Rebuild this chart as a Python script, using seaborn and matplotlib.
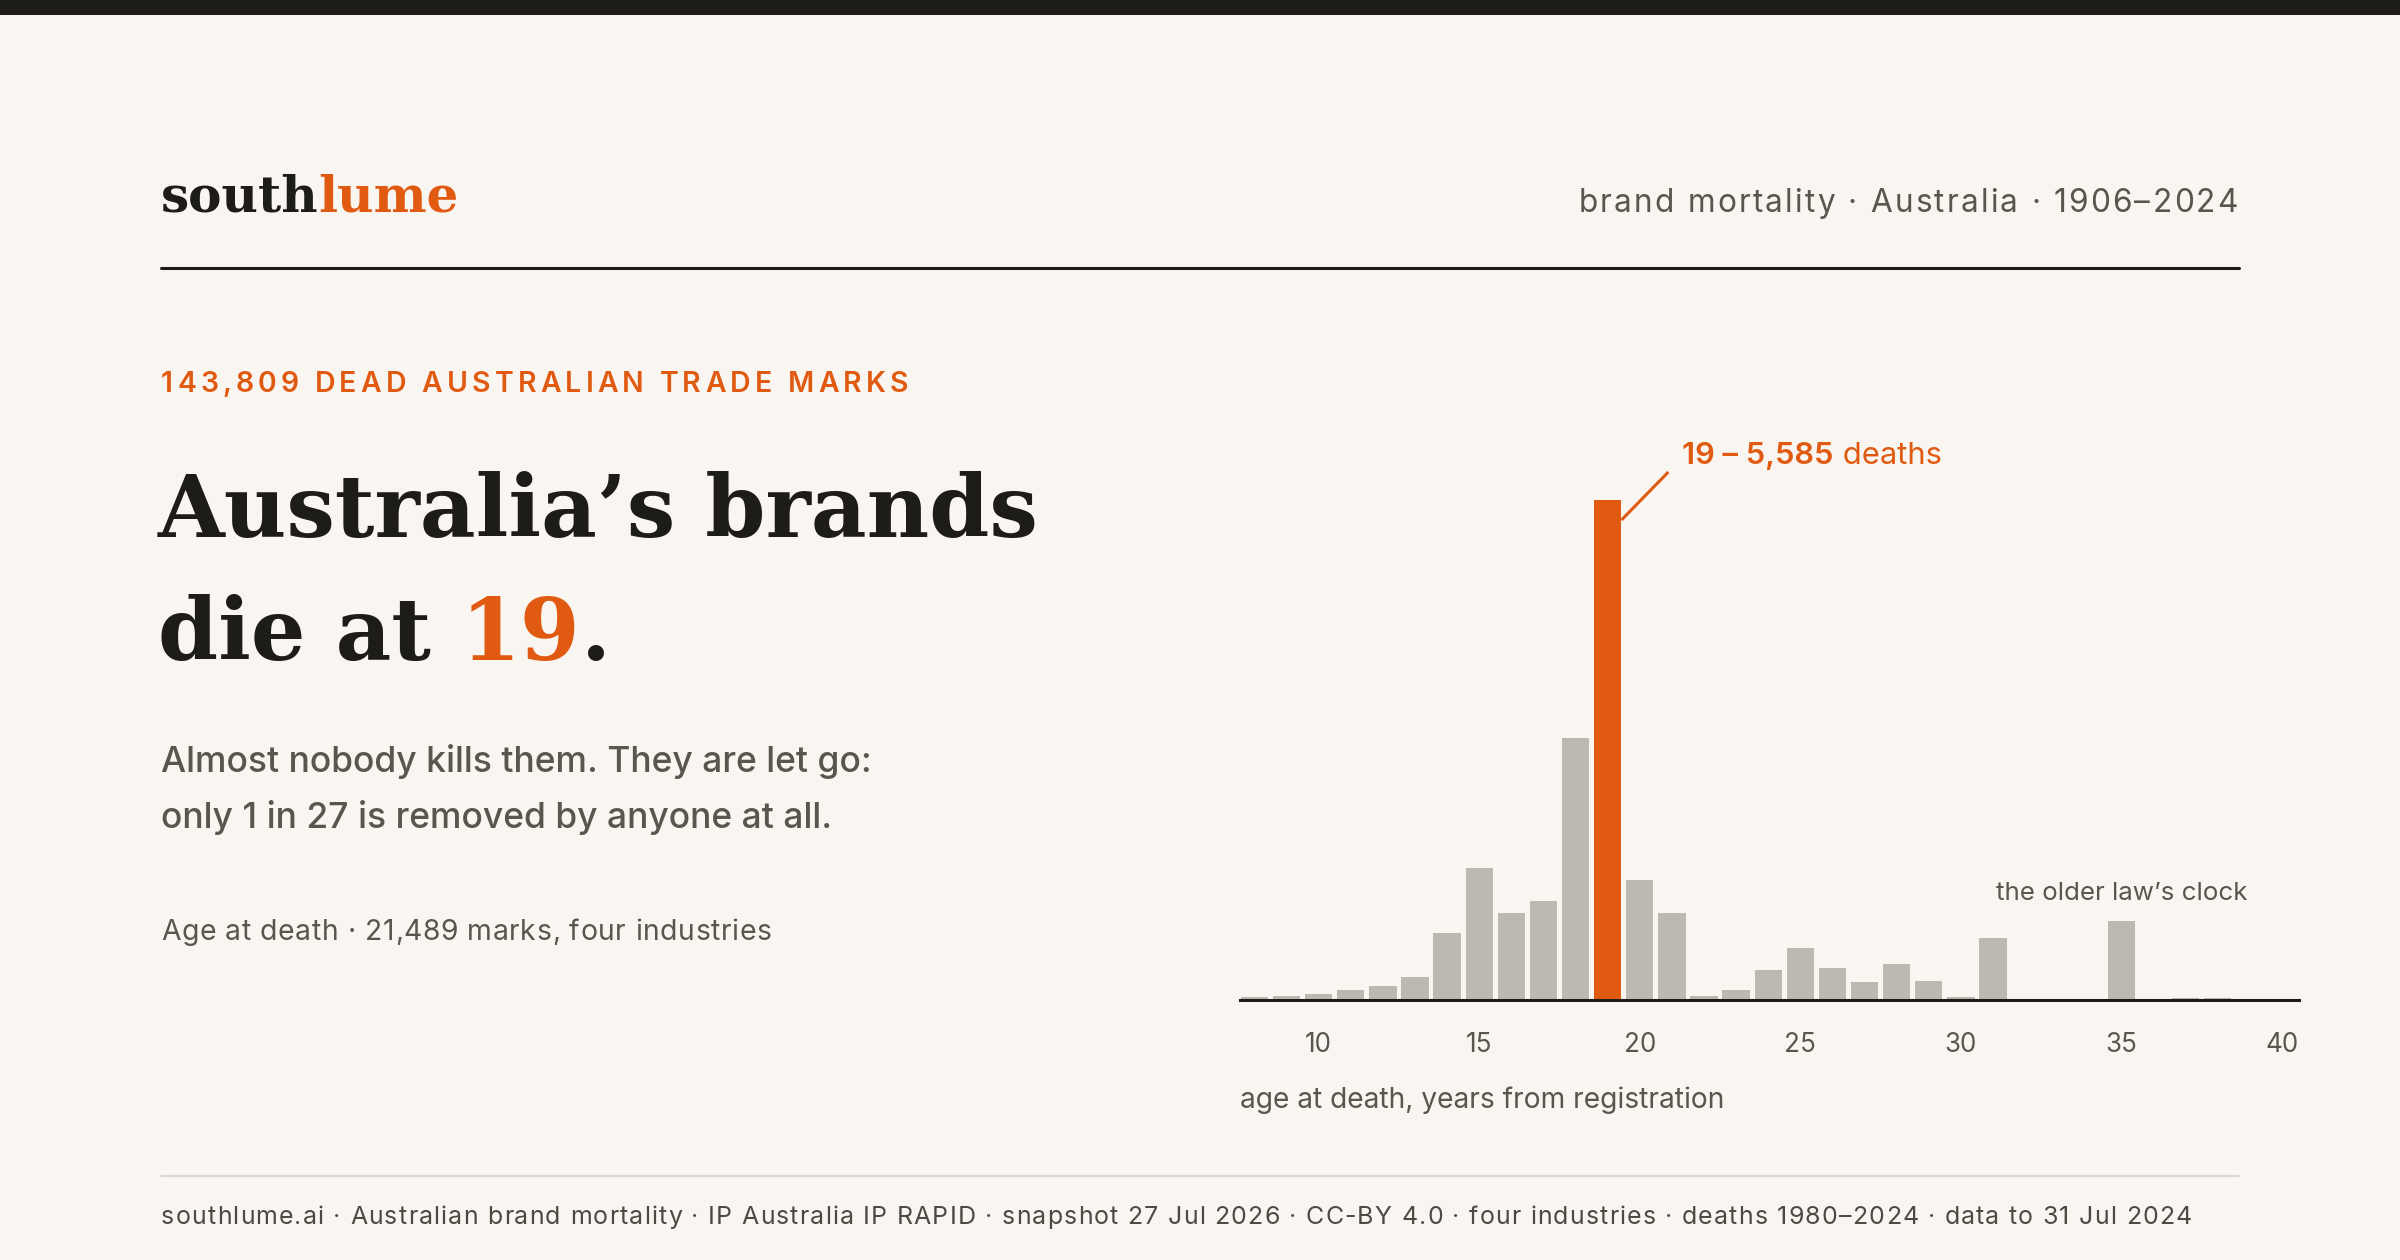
import matplotlib
matplotlib.use("Agg")
import matplotlib.pyplot as plt
import seaborn as sns
import pandas as pd
import numpy as np
from matplotlib.font_manager import FontProperties
from matplotlib.lines import Line2D
from matplotlib.patches import Rectangle

# ---------------- data ----------------
ages = list(range(8, 41))
deaths = [30, 48, 70, 108, 160, 257, 745, 1471, 968, 1106, 2923, 5585,
          1337, 968, 41, 115, 331, 585, 354, 205, 398, 209, 34, 696,
          8, 8, 8, 886, 8, 19, 22, 8, 8]
peak_age = 19
x_ticks = [10, 15, 20, 25, 30, 35, 40]

kicker = "143,809 DEAD AUSTRALIAN TRADE MARKS"
title_1 = "Australia\u2019s brands"
title_2 = ["die at ", "19", "."]
sub_1 = "Almost nobody kills them. They are let go:"
sub_2 = "only 1 in 27 is removed by anyone at all."
chart_note = "Age at death \u00b7 21,489 marks, four industries"
header_right = "brand mortality \u00b7 Australia \u00b7 1906\u20132024"
x_label = "age at death, years from registration"
peak_label = ["19 \u2013 5,585", " deaths"]
old_law = "the older law\u2019s clock"
old_law_age = 35
footer = ("southlume.ai \u00b7 Australian brand mortality \u00b7 IP Australia IP RAPID \u00b7 "
          "snapshot 27 Jul 2026 \u00b7 CC-BY 4.0 \u00b7 four industries \u00b7 deaths 1980\u20132024 "
          "\u00b7 data to 31 Jul 2024")

# ---------------- style ----------------
BG = "#f9f6f1"
DARK = "#1e1c18"
ORANGE = "#e05a12"
GREY = "#5a554d"
BAR = "#bdb9b1"
RULE = "#dcd8d0"

W, H = 2400, 1260
sns.set_theme(style="white")
SANS = ["Inter", "DejaVu Sans"]
SERIF = ["DejaVu Serif"]
plt.rcParams["font.family"] = SANS

fig = plt.figure(figsize=(12, 6.3), dpi=200, facecolor=BG)
renderer = fig.canvas.get_renderer()


def fx(x):
    return x / W


def fy(y):
    return 1 - y / H


def fp(size, weight="normal", family=SANS):
    return FontProperties(family=family, size=size, weight=weight)


def tw(s, prop):
    if not s:
        return 0.0
    w, h, d = renderer.get_text_width_height_descent(s, prop, ismath=False)
    return w


def adv(s, prop):
    if not s:
        return 0.0
    return tw(s + "x", prop) - tw("x", prop)


def draw_tracked(x, y, s, prop, color, tracking=0.0, ha="left"):
    n = len(s)
    total = tw(s, prop) + tracking * (n - 1)
    x0 = x - total if ha == "right" else x
    if tracking == 0.0:
        fig.text(fx(x0), fy(y), s, fontproperties=prop, color=color,
                 va="baseline", ha="left")
        return
    for i, ch in enumerate(s):
        if ch == " ":
            continue
        xi = x0 + adv(s[:i], prop) + i * tracking
        fig.text(fx(xi), fy(y), ch, fontproperties=prop, color=color,
                 va="baseline", ha="left")


def fit_prop(s, size0, weight, target_w, tracking, family=SANS):
    p = fp(size0, weight, family)
    need = target_w - tracking * (len(s) - 1)
    return fp(size0 * need / tw(s, p), weight, family)


def fitted(x, y, s, size0, color, target_w, tracking=0.0, weight="normal", ha="left"):
    p = fit_prop(s, size0, weight, target_w, tracking)
    draw_tracked(x, y, s, p, color, tracking, ha)
    return p


# top dark band
fig.add_artist(Rectangle((0, fy(15)), 1, 15 / H, transform=fig.transFigure,
                         color=DARK, lw=0))

# logo
logo_p = fit_prop("southlume", 19, "bold", 298, 0, SERIF)
fig.text(fx(161), fy(212), "south", fontproperties=logo_p, color=DARK, va="baseline")
fig.text(fx(161 + adv("south", logo_p)), fy(212), "lume", fontproperties=logo_p,
         color=ORANGE, va="baseline")

# header right
fitted(2238, 212, header_right, 10.4, GREY, 660, tracking=2.2, ha="right")

# header rule
fig.add_artist(Line2D([fx(161), fx(2239)], [fy(268), fy(268)],
                      transform=fig.transFigure, color=DARK, lw=1.1))

# kicker
fitted(161, 392, kicker, 10, ORANGE, 747, tracking=4.2, weight="semibold")

# title
tp = fit_prop(title_1, 36, "bold", 880, 0, SERIF)
fig.text(fx(158), fy(537), title_1, fontproperties=tp, color=DARK, va="baseline")
xcur = 158
for part, col in zip(title_2, [DARK, ORANGE, DARK]):
    fig.text(fx(xcur), fy(660), part, fontproperties=tp, color=col, va="baseline")
    xcur += adv(part, tp)

# subtitle
sp = fitted(161, 772, sub_1, 12, GREY, 710, tracking=0.0, weight="medium")
draw_tracked(161, 828, sub_2, sp, GREY, 0.0)

# chart note
fitted(161, 940, chart_note, 9, GREY, 610, tracking=0.6)

# ---------------- chart ----------------
ax = fig.add_axes([1240 / W, 1 - 1000 / H, 1059 / W, 500 / H])
df = pd.DataFrame({"age": ages, "deaths": deaths})
df["grp"] = np.where(df["age"] == peak_age, "peak", "other")
sns.barplot(data=df, x="age", y="deaths", hue="grp",
            palette={"peak": ORANGE, "other": BAR}, native_scale=True,
            width=0.85, dodge=False, legend=False, saturation=1,
            linewidth=0, ax=ax)
xmin, xmax = 7.55, 40.53
ax.set_xlim(xmin, xmax)
ax.set_ylim(0, max(deaths))
ax.set_facecolor("none")
for s in ["top", "right", "left"]:
    ax.spines[s].set_visible(False)
ax.spines["bottom"].set_color(DARK)
ax.spines["bottom"].set_linewidth(1.1)
ax.spines["bottom"].set_zorder(5)
ax.set_xticks(x_ticks)
ax.set_xticklabels([str(t) for t in x_ticks])
ax.set_yticks([])
ax.tick_params(axis="x", length=0, pad=11.5, labelsize=9.4, labelcolor=GREY)
ax.set_xlabel("")
ax.set_ylabel("")

# x label
fitted(1240, 1108, x_label, 9, GREY, 485, tracking=0.0)

# peak annotation
ymax = max(deaths)
px_per_year = 1059 / (xmax - xmin)
px_per_unit = 500 / ymax
ax.plot([19.43, 20.89], [ymax * 0.96, ymax * 1.056], color=ORANGE, lw=1.1,
        clip_on=False, solid_capstyle="butt")
full_lab = peak_label[0] + peak_label[1]
scale_lab = 262 / tw(full_lab, fp(10.4, "semibold"))
ap1 = fp(10.4 * scale_lab, "semibold")
ap2 = fp(10.4 * scale_lab)
ty = ymax * 1.072
ax.text(21.33, ty, peak_label[0], fontproperties=ap1, color=ORANGE,
        va="baseline", ha="left", clip_on=False)
ax.text(21.33 + adv(peak_label[0], ap1) / px_per_year, ty, peak_label[1],
        fontproperties=ap2, color=ORANGE, va="baseline", ha="left", clip_on=False)

# old law note
olp = fit_prop(old_law, 9, "normal", 251, 0)
ax.text(old_law_age, 100 / px_per_unit, old_law, fontproperties=olp,
        color=GREY, ha="center", va="baseline")

# footer
fig.add_artist(Line2D([fx(161), fx(2239)], [fy(1176), fy(1176)],
                      transform=fig.transFigure, color=RULE, lw=0.8))
fitted(161, 1224, footer, 8.8, "#4d4a44", 2031, tracking=1.2)

fig.savefig("out.png", dpi=200, facecolor=BG)
